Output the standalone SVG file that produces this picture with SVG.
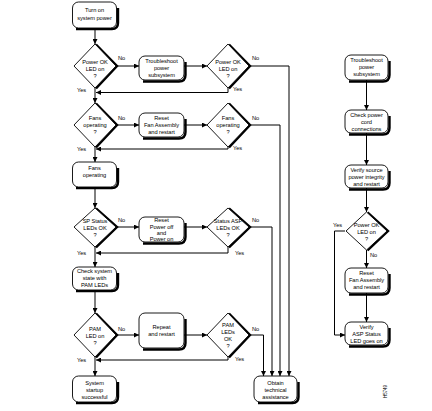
<svg xmlns="http://www.w3.org/2000/svg" width="432" height="411" viewBox="0 0 432 411">
<style>
text{font-family:"Liberation Sans",Arial,sans-serif;font-size:5.7px;fill:#000;text-anchor:middle;letter-spacing:-0.05px}
.lbl{text-anchor:start}
.box{fill:#fff;stroke:#000;stroke-width:0.9}
.sh{fill:none;stroke:#000;stroke-width:2.4}
.ln{fill:none;stroke:#000;stroke-width:1}
</style>
<defs>
<marker id="ah" viewBox="0 0 10 10" refX="10" refY="5" markerWidth="5" markerHeight="5" orient="auto" markerUnits="userSpaceOnUse">
<path d="M0,0 L10,5 L0,10 Z" fill="#000"/>
</marker>
</defs>
<rect width="432" height="411" fill="#fff"/>

<g id="connectors">
<path class="ln" marker-end="url(#ah)" d="M95,28 V44"/>
<path class="ln" marker-end="url(#ah)" d="M95,88 V103"/>
<path class="ln" marker-end="url(#ah)" d="M95,147 V162"/>
<path class="ln" marker-end="url(#ah)" d="M95,187 V208"/>
<path class="ln" marker-end="url(#ah)" d="M95,247 V267"/>
<path class="ln" marker-end="url(#ah)" d="M95,290 V313"/>
<path class="ln" marker-end="url(#ah)" d="M95,357 V376"/>

<path class="ln" marker-end="url(#ah)" d="M116,66 H139"/>
<path class="ln" marker-end="url(#ah)" d="M184,66 H207"/>
<path class="ln" marker-end="url(#ah)" d="M116,125 H139"/>
<path class="ln" marker-end="url(#ah)" d="M184,125 H207"/>
<path class="ln" marker-end="url(#ah)" d="M116,227 H139"/>
<path class="ln" marker-end="url(#ah)" d="M184,227 H207"/>
<path class="ln" marker-end="url(#ah)" d="M116,335 H139"/>
<path class="ln" marker-end="url(#ah)" d="M184,335 H207"/>

<path class="ln" marker-end="url(#ah)" d="M228,88 V92.5 H96"/>
<path class="ln" marker-end="url(#ah)" d="M228,147 V149 H96"/>
<path class="ln" marker-end="url(#ah)" d="M228,247 V253 H96"/>
<path class="ln" marker-end="url(#ah)" d="M228,357 V360 H96"/>

<path class="ln" marker-end="url(#ah)" d="M249,66 H289 V376"/>
<path class="ln" marker-end="url(#ah)" d="M249,125 H280 V376"/>
<path class="ln" marker-end="url(#ah)" d="M249,227 H272 V376"/>
<path class="ln" marker-end="url(#ah)" d="M249,335 H263.5 V376"/>

<path class="ln" marker-end="url(#ah)" d="M366.5,80 V110"/>
<path class="ln" marker-end="url(#ah)" d="M366.5,133 V165"/>
<path class="ln" marker-end="url(#ah)" d="M366.5,188 V212"/>
<path class="ln" marker-end="url(#ah)" d="M366.5,250 V268"/>
<path class="ln" marker-end="url(#ah)" d="M366.5,293 V322"/>
<path class="ln" marker-end="url(#ah)" d="M345,231 H334.5 V335 H345"/>

<text class="lbl" x="118" y="60">No</text>
<text class="lbl" x="252" y="60">No</text>
<text class="lbl" x="77" y="92">Yes</text>
<text class="lbl" x="233" y="91">Yes</text>
<text class="lbl" x="118" y="120">No</text>
<text class="lbl" x="252" y="120">No</text>
<text class="lbl" x="77" y="151">Yes</text>
<text class="lbl" x="233" y="150">Yes</text>
<text class="lbl" x="118" y="222">No</text>
<text class="lbl" x="252" y="222">No</text>
<text class="lbl" x="77" y="255">Yes</text>
<text class="lbl" x="235" y="255">Yes</text>
<text class="lbl" x="118" y="331">No</text>
<text class="lbl" x="252" y="331">No</text>
<text class="lbl" x="77" y="362">Yes</text>
<text class="lbl" x="235" y="361">Yes</text>
<text class="lbl" x="333" y="227">Yes</text>
<text class="lbl" x="370" y="257">No</text>
</g>

<g id="n-turnon">
<path class="sh" d="M118,8 V23 Q118,29 112,29 H76"/>
<rect class="box" x="72.5" y="2" width="44" height="26" rx="6"/>
<text x="94.5" y="12">Turn on</text><text x="94.5" y="20">system power</text>
</g>
<g id="d-powerok1">
<path class="sh" d="M96,44.5 L117,66 L96,88.5"/>
<polygon class="box" points="95,44 116,66 95,88 74,66"/>
<text x="95" y="64">Power OK</text><text x="95" y="71">LED on</text><text x="95" y="78">?</text>
</g>
<g id="n-trouble1">
<path class="sh" d="M185.5,62 V75 Q185.5,81.5 179,81.5 H143"/>
<rect class="box" x="139" y="56" width="45" height="24" rx="6"/>
<text x="161.5" y="63">Troubleshoot</text><text x="161.5" y="70">power</text><text x="161.5" y="77">subsystem</text>
</g>
<g id="d-powerok2">
<path class="sh" d="M229,44.5 L250,66 L229,88.5"/>
<polygon class="box" points="228,44 249,66 228,88 207,66"/>
<text x="228" y="64">Power OK</text><text x="228" y="71">LED on</text><text x="228" y="78">?</text>
</g>

<g id="d-fans1">
<path class="sh" d="M96,103.5 L117,125 L96,147.5"/>
<polygon class="box" points="95,103 116,125 95,147 74,125"/>
<text x="95" y="120">Fans</text><text x="95" y="127">operating</text><text x="95" y="134">?</text>
</g>
<g id="n-reset1">
<path class="sh" d="M185.5,119 V132 Q185.5,138.5 179,138.5 H143"/>
<rect class="box" x="139" y="113" width="45" height="24" rx="6"/>
<text x="161.5" y="120">Reset</text><text x="161.5" y="127">Fan Assembly</text><text x="161.5" y="134">and restart</text>
</g>
<g id="d-fans2">
<path class="sh" d="M229,103.5 L250,125 L229,147.5"/>
<polygon class="box" points="228,103 249,125 228,147 207,125"/>
<text x="228" y="120">Fans</text><text x="228" y="127">operating</text><text x="228" y="134">?</text>
</g>

<g id="n-fansop">
<path class="sh" d="M118,168 V182 Q118,188 112,188 H76"/>
<rect class="box" x="72.5" y="162" width="44" height="25" rx="6"/>
<text x="94.5" y="170">Fans</text><text x="94.5" y="177">operating</text>
</g>
<g id="d-sp">
<path class="sh" d="M96,208.5 L117,227 L96,247.5"/>
<polygon class="box" points="95,208 116,227 95,247 74,227"/>
<text x="95" y="223">SP Status</text><text x="95" y="230">LEDs OK</text><text x="95" y="237">?</text>
</g>
<g id="n-reset2">
<path class="sh" d="M185.5,223 V237 Q185.5,243.5 179,243.5 H143"/>
<rect class="box" x="139" y="217" width="45" height="25" rx="6"/>
<text x="161.5" y="222">Reset</text><text x="161.5" y="228.5">Power off</text><text x="161.5" y="235">and</text><text x="161.5" y="241">Power on</text>
</g>
<g id="d-asp">
<path class="sh" d="M229,208.5 L250,227 L229,247.5"/>
<polygon class="box" points="228,208 249,227 228,247 207,227"/>
<text x="228" y="223">Status ASP</text><text x="228" y="230">LEDs OK</text><text x="228" y="237">?</text>
</g>

<g id="n-check">
<path class="sh" d="M118,273 V285 Q118,291 112,291 H76"/>
<rect class="box" x="72.5" y="267" width="44" height="23" rx="6"/>
<text x="94.5" y="273">Check system</text><text x="94.5" y="280">state with</text><text x="94.5" y="287">PAM LEDs</text>
</g>
<g id="d-pam1">
<path class="sh" d="M96,313.5 L117,335 L96,357.5"/>
<polygon class="box" points="95,313 116,335 95,357 74,335"/>
<text x="95" y="331">PAM</text><text x="95" y="338">LED on</text><text x="95" y="345">?</text>
</g>
<g id="n-repeat">
<path class="sh" d="M185.5,319 V343 Q185.5,349.5 179,349.5 H143"/>
<rect class="box" x="139" y="313" width="45" height="35" rx="6"/>
<text x="161.5" y="329">Repeat</text><text x="161.5" y="336">and restart</text>
</g>
<g id="d-pam2">
<path class="sh" d="M229,313.5 L250,335 L229,357.5"/>
<polygon class="box" points="228,313 249,335 228,357 207,335"/>
<text x="228" y="327">PAM</text><text x="228" y="334">LEDs</text><text x="228" y="341">OK</text><text x="228" y="348">?</text>
</g>
<g id="n-success">
<path class="sh" d="M118,382 V397 Q118,403 112,403 H76"/>
<rect class="box" x="72.5" y="376" width="44" height="26" rx="6"/>
<text x="94.5" y="385">System</text><text x="94.5" y="392">startup</text><text x="94.5" y="399">successful</text>
</g>
<g id="n-obtain">
<path class="sh" d="M298.5,382 V397 Q298.5,403 292.5,403 H258"/>
<rect class="box" x="254" y="376" width="43" height="26" rx="6"/>
<text x="275.5" y="385">Obtain</text><text x="275.5" y="392">technical</text><text x="275.5" y="399">assistance</text>
</g>

<g id="r-trouble">
<path class="sh" d="M389.5,61 V75 Q389.5,81.5 383,81.5 H349"/>
<rect class="box" x="345" y="55" width="43" height="25" rx="6"/>
<text x="366.5" y="62">Troubleshoot</text><text x="366.5" y="69">power</text><text x="366.5" y="76">subsystem</text>
</g>
<g id="r-cord">
<path class="sh" d="M389.5,116 V128 Q389.5,134.5 383,134.5 H349"/>
<rect class="box" x="345" y="110" width="43" height="23" rx="6"/>
<text x="366.5" y="117">Check power</text><text x="366.5" y="124">cord</text><text x="366.5" y="131">connections</text>
</g>
<g id="r-verify">
<path class="sh" d="M389.5,171 V183 Q389.5,189.5 383,189.5 H349"/>
<rect class="box" x="345" y="165" width="43" height="23" rx="6"/>
<text x="366.5" y="172">Verify source</text><text x="366.5" y="179">power integrity</text><text x="366.5" y="186">and restart</text>
</g>
<g id="r-powerok">
<path class="sh" d="M367.5,212.5 L388,231 L367.5,250.5"/>
<polygon class="box" points="366.5,212 387,231 366.5,250 346,231"/>
<text x="366.5" y="227">Power OK</text><text x="366.5" y="234">LED on</text><text x="366.5" y="241">?</text>
</g>
<g id="r-reset">
<path class="sh" d="M389.5,274 V288 Q389.5,294.5 383,294.5 H349"/>
<rect class="box" x="345" y="268" width="43" height="25" rx="6"/>
<text x="366.5" y="275">Reset</text><text x="366.5" y="282">Fan Assembly</text><text x="366.5" y="289">and restart</text>
</g>
<g id="r-asp">
<path class="sh" d="M389.5,328 V340 Q389.5,346.5 383,346.5 H349"/>
<rect class="box" x="345" y="322" width="43" height="23" rx="6"/>
<text x="366.5" y="329">Verify</text><text x="366.5" y="336">ASP Status</text><text x="366.5" y="343">LED goes on</text>
</g>

<text x="0" y="0" transform="translate(387,391.5) rotate(-90)" style="font-size:4.5px">H5749</text>
</svg>
